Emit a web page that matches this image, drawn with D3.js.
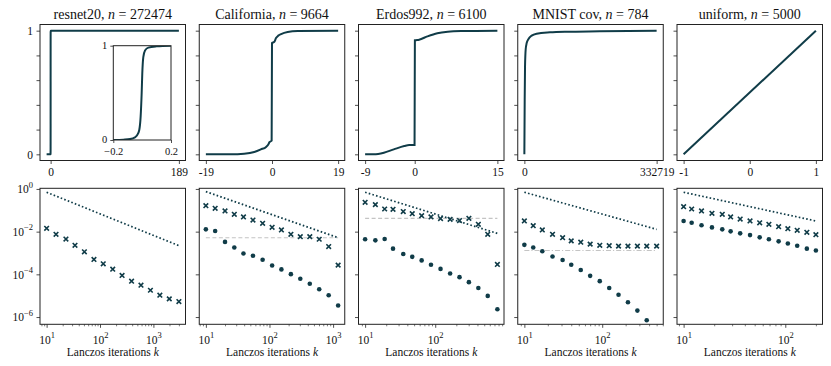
<!DOCTYPE html>
<html>
<head>
<meta charset="utf-8">
<script src="https://cdn.jsdelivr.net/npm/d3@7"></script>
<style>
  body { margin: 0; background: #fff; }
  svg text { font-family: "Liberation Serif", "DejaVu Serif", serif; fill: #111; }
</style>
</head>
<body>
<svg width="831" height="366"></svg>
<script>
// ---- data ----
const titles = ["resnet20", "California", "Erdos992", "MNIST cov", "uniform"];
const sizes = [272474, 9664, 6100, 784, 5000];

// spectral CDFs (top row)
const resnetX = [-5.9, -0.2, -0.13, -0.084, -0.05, -0.034, -0.02, -0.0104, -0.0035, 0.001, 0.008, 0.02, 0.043, 0.1, 0.2, 189];
const resnetY = [0, 0, 0.004, 0.01, 0.028, 0.053, 0.106, 0.25, 0.49, 0.71, 0.88, 0.95, 0.98, 0.993, 1, 1];
const califX = [-19, -11.8, -8, -5.1, -3.2, -1.7, -1.06, -0.67, -0.1, 0, 0.67, 1.15, 1.8, 2.6, 4.5, 7.4, 19];
const califY = [0, 0, 0.005, 0.019, 0.04, 0.06, 0.08, 0.1, 0.11, 0.9, 0.91, 0.94, 0.96, 0.973, 0.99, 0.997, 1];
const erdosX = [-9, -7.4, -5.6, -3.8, -1.9, -1.0, -0.03, 0.03, 0.8, 2.3, 4.1, 6.0, 8.4, 15];
const erdosY = [0, 0, 0.013, 0.04, 0.067, 0.075, 0.075, 0.922, 0.927, 0.954, 0.98, 0.992, 0.997, 1];
const mnistX = [0, 836, 1672, 3344, 5852, 10031, 18390, 30930, 64380, 106180, 189780, 332719];
const mnistY = [0, 0.44, 0.71, 0.85, 0.9, 0.93, 0.96, 0.976, 0.987, 0.992, 0.995, 1];
const unifX = [-1, 1];
const unifY = [0, 1];
const cdfX = [resnetX, califX, erdosX, mnistX, unifX];
const cdfY = [resnetY, califY, erdosY, mnistY, unifY];
const xTopTicks = [[0, 189], [-19, 0, 19], [-9, 0, 15], [0, 332719], [-1, 0, 1]];

// Lanczos iterations (bottom row)
const iters = [
  [10, 15, 23, 34, 51, 77, 115, 173, 259, 390, 585, 879, 1320, 1983, 3000],
  [10, 14, 20, 28, 39, 55, 78, 110, 154, 217, 305, 430, 605, 852, 1200],
  [10, 14, 19, 25, 35, 47, 64, 87, 119, 163, 222, 302, 412, 561, 770],
  [10, 13, 17, 23, 31, 40, 53, 70, 93, 123, 162, 214, 283, 373, 500],
  [10, 12, 15, 19, 24, 29, 36, 45, 56, 69, 86, 106, 131, 163, 200]
];
const crossErr = [
  [0.0143, 0.0075, 0.0045, 0.0023, 0.00114, 5.0e-4, 3.1e-4, 1.75e-4, 8.9e-5, 4.8e-5, 3.1e-5, 1.8e-5, 1.05e-5, 7.1e-6, 5.3e-6],
  [0.164, 0.124, 0.093, 0.065, 0.049, 0.035, 0.0245, 0.0159, 0.012, 0.0075, 0.0058, 0.0058, 0.0044, 0.002, 2.7e-4],
  [0.237, 0.184, 0.115, 0.111, 0.087, 0.069, 0.056, 0.049, 0.041, 0.038, 0.033, 0.042, 0.022, 0.0075, 2.9e-4],
  [0.0316, 0.019, 0.012, 0.0075, 0.0052, 0.0037, 0.0032, 0.0026, 0.0023, 0.0022, 0.0021, 0.0021, 0.0021, 0.0021, 0.0021],
  [0.148, 0.115, 0.093, 0.072, 0.065, 0.049, 0.039, 0.0316, 0.026, 0.022, 0.017, 0.0138, 0.0115, 0.0093, 0.0072]
];
const dotErr = [
  [],
  [0.0128, 0.0107, 0.0033, 0.0018, 9.5e-4, 7.4e-4, 4.8e-4, 2.6e-4, 1.7e-4, 1.02e-4, 6.2e-5, 3.6e-5, 2.0e-5, 1.05e-5, 3.5e-6],
  [0.0044, 0.0039, 0.0045, 0.0016, 8.9e-4, 6.6e-4, 4.5e-4, 2.8e-4, 1.8e-4, 1.1e-4, 7.4e-5, 4.3e-5, 2.3e-5, 9.8e-6, 2.3e-6],
  [0.0024, 0.0018, 0.0012, 6.9e-4, 4.7e-4, 2.8e-4, 1.6e-4, 8.5e-5, 4.8e-5, 2.3e-5, 1.1e-5, 4.9e-6, 2.0e-6, 7.1e-7],
  [0.0316, 0.026, 0.02, 0.0158, 0.0128, 0.0103, 0.0083, 0.0069, 0.0054, 0.0044, 0.0035, 0.0028, 0.0022, 0.0016, 0.0013]
];
const boundEnds = [[0.7, 0.0022], [0.75, 0.0052], [0.7, 0.0083], [0.7, 0.0128], [0.7, 0.0316]];
const refLevel = [null, 0.0052, 0.042, 0.0013, null];
const refDash = [null, "4,2.5", "4,2.5", "5,2,1.2,2", null];

// ---- layout ----
const ink = "#103c48";
const colX0 = 40, colStep = 159.25, colW = 145.5;
const topY = 24.5, botY = 188.3, rowH = 136;
const tickFont = 11.5;

const svg = d3.select("svg");

function padLinear(ext) {
  const m = (ext[1] - ext[0]) * 0.05;
  return [ext[0] - m, ext[1] + m];
}
function padLog(ext) {
  const a = Math.log10(ext[0]), b = Math.log10(ext[1]), m = (b - a) * 0.05;
  return [10 ** (a - m), 10 ** (b + m)];
}
function styleAxis(ax, size = tickFont) {
  ax.attr("font-family", null).attr("font-size", size);
  ax.select(".domain").remove();
  ax.selectAll(".tick line").attr("stroke", "#222").attr("stroke-width", 0.8);
  ax.selectAll(".tick text").attr("fill", "#111");
}
function powLabel(sel) {
  sel.selectAll(".tick text").each(function(d) {
    const t = d3.select(this);
    const e = Math.round(Math.log10(d));
    t.text(null);
    t.append("tspan").text("10");
    t.append("tspan").attr("dy", -5.5).attr("font-size", 8.5).text(e < 0 ? "\u2212" + (-e) : e);
  });
}
function frame(g, w, h) {
  g.append("rect").attr("width", w).attr("height", h)
    .attr("fill", "none").attr("stroke", "#222").attr("stroke-width", 1);
}

for (let i = 0; i < 5; i++) {
  const x0 = colX0 + i * colStep;

  // ---------- top row: CDF ----------
  const gt = svg.append("g").attr("transform", `translate(${x0},${topY})`);
  const xt = d3.scaleLinear().domain(padLinear(d3.extent(cdfX[i]))).range([0, colW]);
  const yt = d3.scaleLinear().domain([-0.05, 1.05]).range([rowH, 0]);

  gt.append("text").attr("x", colW / 2).attr("y", -6).attr("text-anchor", "middle")
    .attr("font-size", 14)
    .call(t => {
      t.append("tspan").text(titles[i] + ", ");
      t.append("tspan").attr("font-style", "italic").text("n");
      t.append("tspan").text(" = " + sizes[i]);
    });

  gt.append("path")
    .datum(d3.zip(cdfX[i], cdfY[i]))
    .attr("fill", "none").attr("stroke", ink).attr("stroke-width", 2)
    .attr("d", d3.line().x(d => xt(d[0])).y(d => yt(d[1])).curve(d3.curveMonotoneX));

  const axYt = gt.append("g").call(d3.axisLeft(yt).tickValues([0, 0.2, 0.4, 0.6, 0.8, 1])
    .tickSize(3.5).tickPadding(3.5)
    .tickFormat(d => (i === 0 && (d === 0 || d === 1)) ? d : ""));
  styleAxis(axYt);

  const axXt = gt.append("g").attr("transform", `translate(0,${rowH})`)
    .call(d3.axisBottom(xt).tickValues(xTopTicks[i]).tickSize(3.5).tickPadding(3.5).tickFormat(d => d));
  styleAxis(axXt);
  frame(gt, colW, rowH);

  // inset for resnet20
  if (i === 0) {
    const iw = 57.7, ih = 94.3;
    const gi = gt.append("g").attr("transform", `translate(${113.3 - x0},${45.7 - topY})`);
    const xi = d3.scaleLinear().domain([-0.2, 0.2]).range([0, iw]);
    const yi = d3.scaleLinear().domain([0, 1]).range([ih, 0]);
    gi.append("rect").attr("width", iw).attr("height", ih).attr("fill", "#fff");
    gi.append("clipPath").attr("id", "insetClip").append("rect").attr("width", iw).attr("height", ih);
    gi.append("path")
      .datum(d3.zip(resnetX, resnetY).filter(d => d[0] >= -0.2 && d[0] <= 0.2))
      .attr("clip-path", "url(#insetClip)")
      .attr("fill", "none").attr("stroke", ink).attr("stroke-width", 2)
      .attr("d", d3.line().x(d => xi(d[0])).y(d => yi(d[1])).curve(d3.curveMonotoneX));
    const ayi = gi.append("g").call(d3.axisLeft(yi).tickValues([0, 1]).tickSize(3).tickPadding(3)
      .tickFormat(d => d));
    styleAxis(ayi, 10.5);
    ayi.selectAll(".tick text").attr("dy", "0.25em");
    const axi = gi.append("g").attr("transform", `translate(0,${ih})`)
      .call(d3.axisBottom(xi).tickValues([-0.2, 0.2]).tickSize(3).tickPadding(4.5)
        .tickFormat(d => d < 0 ? "\u2212" + Math.abs(d) : d));
    styleAxis(axi, 10.5);
    frame(gi, iw, ih);
  }

  // ---------- bottom row: errors vs Lanczos iterations ----------
  const gb = svg.append("g").attr("transform", `translate(${x0},${botY})`);
  const k = iters[i];
  const xb = d3.scaleLog().domain(padLog(d3.extent(k))).range([0, colW]);
  const yb = d3.scaleLog().domain([10 ** -6.34, 10 ** 0.03]).range([rowH, 0]);

  gb.append("clipPath").attr("id", "clipB" + i).append("rect").attr("width", colW).attr("height", rowH);
  const plot = gb.append("g").attr("clip-path", `url(#clipB${i})`);

  if (refLevel[i] !== null) {
    plot.append("path")
      .datum([[k[0], refLevel[i]], [k[k.length - 1], refLevel[i]]])
      .attr("fill", "none").attr("stroke", "#c4c4c4").attr("stroke-width", 1.1)
      .attr("stroke-dasharray", refDash[i])
      .attr("d", d3.line().x(d => xb(d[0])).y(d => yb(d[1])));
  }

  plot.append("path")
    .datum([[k[0], boundEnds[i][0]], [k[k.length - 1], boundEnds[i][1]]])
    .attr("fill", "none").attr("stroke", ink).attr("stroke-width", 1.7)
    .attr("stroke-dasharray", "1.6,2.2")
    .attr("d", d3.line().x(d => xb(d[0])).y(d => yb(d[1])));

  plot.selectAll("path.cross")
    .data(d3.zip(k, crossErr[i]))
    .join("path").attr("class", "cross")
    .attr("transform", d => `translate(${xb(d[0])},${yb(d[1])})`)
    .attr("d", "M-2.3,-2.3L2.3,2.3M-2.3,2.3L2.3,-2.3")
    .attr("stroke", ink).attr("stroke-width", 1.6).attr("fill", "none");

  plot.selectAll("circle")
    .data(d3.zip(k, dotErr[i]))
    .join("circle")
    .attr("cx", d => xb(d[0])).attr("cy", d => yb(d[1])).attr("r", 2.3)
    .attr("fill", ink);

  const [xlo, xhi] = xb.domain();
  const minor = [];
  for (let e = Math.floor(Math.log10(xlo)); e <= Math.ceil(Math.log10(xhi)); e++) {
    for (let m = 2; m <= 9; m++) {
      const v = m * 10 ** e;
      if (v >= xlo && v <= xhi) minor.push(v);
    }
  }
  const major = [10, 100, 1000].filter(v => v >= xlo && v <= xhi);

  const axMinor = gb.append("g").attr("transform", `translate(0,${rowH})`)
    .call(d3.axisBottom(xb).tickValues(minor).tickSize(2).tickFormat(""));
  styleAxis(axMinor);
  axMinor.selectAll(".tick line").attr("stroke-width", 0.6);

  const axXb = gb.append("g").attr("transform", `translate(0,${rowH})`)
    .call(d3.axisBottom(xb).tickValues(major).tickSize(3.5).tickPadding(3.5));
  styleAxis(axXb);
  powLabel(axXb);
  axXb.selectAll(".tick text").attr("dy", "1.1em");

  const axYb = gb.append("g")
    .call(d3.axisLeft(yb).tickValues([1, 1e-2, 1e-4, 1e-6]).tickSize(3.5).tickPadding(3.5));
  styleAxis(axYb);
  if (i === 0) powLabel(axYb); else axYb.selectAll(".tick text").remove();

  gb.append("text").attr("x", colW / 2).attr("y", rowH + 32).attr("text-anchor", "middle")
    .attr("font-size", 11.5)
    .call(t => {
      t.append("tspan").text("Lanczos iterations ");
      t.append("tspan").attr("font-style", "italic").text("k");
    });

  frame(gb, colW, rowH);
}
</script>
</body>
</html>
